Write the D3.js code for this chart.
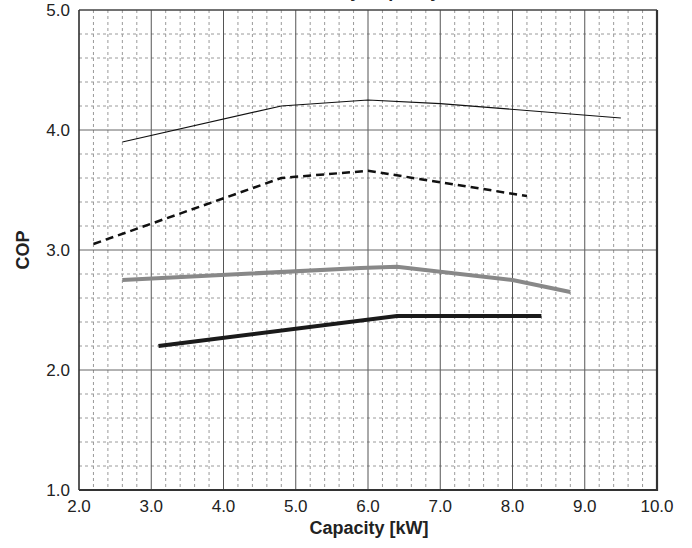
<!DOCTYPE html>
<html><head><meta charset="utf-8">
<script src="https://cdn.jsdelivr.net/npm/d3@7"></script>
<style>body{margin:0;background:#fff}svg{display:block}text{font-family:"Liberation Sans",Arial,sans-serif}</style>
</head><body><svg id="c" width="692" height="548"></svg>
<script>
const title = "COP by Capacity";
const xTicks = [2,3,4,5,6,7,8,9,10];
const yTicks = [1,2,3,4,5];
const seriesThin = [[2.6,3.9],[4.8,4.2],[6.0,4.25],[7.0,4.22],[9.5,4.1]];
const seriesDashed = [[2.2,3.05],[4.8,3.6],[6.0,3.66],[8.2,3.45]];
const seriesGray = [[2.6,2.75],[5.9,2.85],[6.4,2.86],[8.0,2.75],[8.8,2.65]];
const seriesBlack = [[3.1,2.2],[6.4,2.45],[8.4,2.45]];

const svg = d3.select("#c");
const L=79,R=657,T=10,B=490;
const x = d3.scaleLinear().domain([2,10]).range([L,R]);
const y = d3.scaleLinear().domain([1,5]).range([B,T]);

const g = svg.append("g");
const minorX = d3.range(2,10.001,0.2).filter(v=>Math.abs(v-Math.round(v))>1e-6);
const minorY = d3.range(1,5.001,0.2).filter(v=>Math.abs(v-Math.round(v))>1e-6);
g.selectAll(".mx").data(minorX).join("line").attr("x1",d=>x(d)).attr("x2",d=>x(d)).attr("y1",T).attr("y2",B)
 .attr("stroke","#9a9a9a").attr("stroke-width",1).attr("stroke-dasharray","3,3");
g.selectAll(".my").data(minorY).join("line").attr("y1",d=>y(d)).attr("y2",d=>y(d)).attr("x1",L).attr("x2",R)
 .attr("stroke","#9a9a9a").attr("stroke-width",1).attr("stroke-dasharray","3,3");
g.selectAll(".Mx").data(xTicks).join("line").attr("x1",d=>x(d)).attr("x2",d=>x(d)).attr("y1",T).attr("y2",B)
 .attr("stroke","#555").attr("stroke-width",1);
g.selectAll(".My").data(yTicks).join("line").attr("y1",d=>y(d)).attr("y2",d=>y(d)).attr("x1",L).attr("x2",R)
 .attr("stroke","#666").attr("stroke-width",1);
g.append("line").attr("x1",L).attr("x2",L).attr("y1",T).attr("y2",B).attr("stroke","#222").attr("stroke-width",1.2);
g.append("line").attr("x1",L).attr("x2",R).attr("y1",T).attr("y2",T).attr("stroke","#333").attr("stroke-width",1);
g.append("line").attr("x1",R).attr("x2",R).attr("y1",T).attr("y2",B+1).attr("stroke","#333").attr("stroke-width",2.2);
g.append("line").attr("x1",L).attr("x2",R+1).attr("y1",B).attr("y2",B).attr("stroke","#333").attr("stroke-width",2.2);

const line = d3.line().x(d=>x(d[0])).y(d=>y(d[1]));
svg.append("path").attr("d",line(seriesThin)).attr("fill","none").attr("stroke","#111").attr("stroke-width",1.2);
svg.append("path").attr("d",line(seriesDashed)).attr("fill","none").attr("stroke","#111").attr("stroke-width",2.5).attr("stroke-dasharray","8,5");
svg.append("path").attr("d",line(seriesGray)).attr("fill","none").attr("stroke","#888").attr("stroke-width",4);
svg.append("path").attr("d",line(seriesBlack)).attr("fill","none").attr("stroke","#1a1a1a").attr("stroke-width",4);

svg.selectAll(".yl").data(yTicks).join("text").attr("x",70).attr("y",d=>y(d)+6).attr("text-anchor","end")
 .attr("font-size",17).attr("fill","#222").text(d=>d.toFixed(1));
svg.selectAll(".xl").data(xTicks).join("text").attr("x",d=>x(d)).attr("y",512).attr("text-anchor","middle")
 .attr("font-size",17).attr("fill","#222").text(d=>d.toFixed(1));
svg.append("text").attr("x",369).attr("y",534).attr("text-anchor","middle").attr("font-size",18).attr("font-weight","bold").attr("fill","#222").text("Capacity [kW]");
svg.append("text").attr("transform","translate(29,250) rotate(-90)").attr("text-anchor","middle").attr("font-size",18).attr("font-weight","bold").attr("fill","#222").text("COP");
svg.append("text").attr("x",368).attr("y",-3).attr("text-anchor","middle").attr("font-size",18).attr("font-weight","bold").attr("fill","#222").text(title);
</script></body></html>
